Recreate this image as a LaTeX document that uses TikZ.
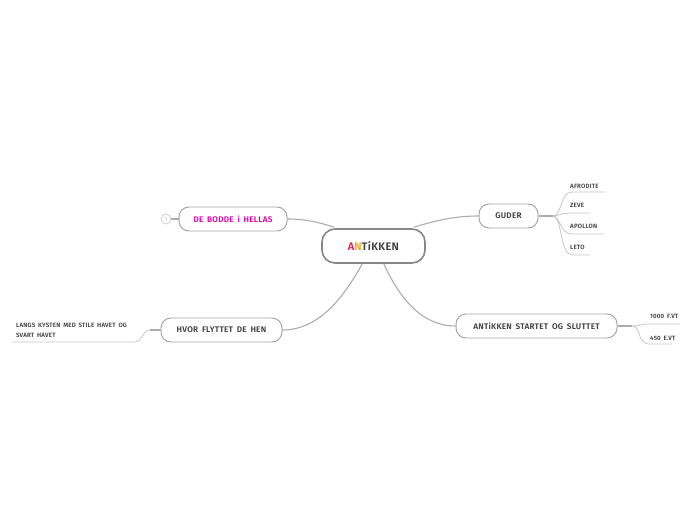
\documentclass[tikz,border=0pt]{standalone}
\usepackage{fontspec}
\setmainfont{Fira Sans}[UprightFont=* SemiBold,LetterSpace=3,WordSpace=1.7]
\definecolor{txt}{HTML}{3F3F3F}
\definecolor{edge}{HTML}{ADADAD}
\definecolor{leaf}{HTML}{C8C8C8}
\definecolor{boxline}{HTML}{A6A6A6}
\tikzset{
 mainbox/.style={draw=black!47,line width=1.6pt,rounded corners=13bp,fill=white,minimum width=103bp,minimum height=34bp,inner sep=0pt,font=\fontsize{11}{12}\selectfont},
 topic/.style={draw=boxline,line width=1pt,rounded corners=10bp,fill=white,minimum height=24bp,inner sep=0pt,text=txt,font=\fontsize{8.2}{9}\selectfont},
 leaftext/.style={inner sep=0pt,anchor=west,text=txt,font=\fontsize{6.2}{7}\selectfont},
 conn/.style={draw=edge,line width=1.1pt},
 leafline/.style={draw=leaf,line width=.8pt},
}
\begin{document}
\begin{tikzpicture}[x=1bp,y=-1bp]
\useasboundingbox[fill=white] (0,0) rectangle (696,520);
\coordinate (gj) at (553,216);
\coordinate (aj) at (632,326);
\coordinate (hj) at (150,330);
\coordinate (e1) at (605,192);
\coordinate (e2) at (590,213);
\coordinate (e3) at (604,234);
\coordinate (e4) at (590,255);
\coordinate (e5) at (680,324);
\coordinate (e6) at (672,344);
\coordinate (e7) at (12,342);
\node[mainbox] (c) at (373.5,246) {\textcolor[HTML]{E8174F}{A}\textcolor[HTML]{F5A41C}{N}\textcolor{txt}{TiKKEN}};
\node[topic,minimum width=59bp] (g) at (508.5,216) {GUDER};
\node[topic,minimum width=108bp,text={rgb,255:red,226;green,0;blue,170}] (d) at (233,219) {DE BODDE i HELLAS};
\node[topic,minimum width=121bp] (h) at (221.5,330) {HVOR FLYTTET DE HEN};
\node[topic,minimum width=161bp] (a) at (536.5,326) {ANTiKKEN STARTET OG SLUTTET};
\node[circle,draw=leaf,line width=.6pt,fill=white,minimum size=10bp,inner sep=0pt,text=leaf,font=\fontsize{5}{5}\selectfont] (n) at (166,219) {1};
\node[leaftext] (t1) at (570,186) {AFRODITE};
\node[leaftext] (t2) at (570,205) {ZEVE};
\node[leaftext] (t3) at (570,226) {APOLLON};
\node[leaftext] (t4) at (570,247) {LETO};
\node[leaftext] (t5) at (650,316) {1000 F.VT};
\node[leaftext] (t6) at (650,338) {450 E.VT};
\node[leaftext,anchor=north west,align=left,font=\fontsize{6.2}{10.5}\selectfont] (t7) at (16,322.5) {LANGS KYSTEN MED STILE HAVET OG\\[-.5pt]SVART HAVET};
\draw[conn] (c.north east) ++(-12,-1) coordinate (c1) (c1) .. controls (438,220) and (455,216) .. (g.west);
\draw[conn] (c.north west) ++(13,-1) coordinate (c2) (c2) .. controls (318,222) and (305,219) .. (d.east);
\draw[conn] (c.south west) ++(41,0) coordinate (c3) (c3) .. controls (345,295) and (320,330) .. (h.east);
\draw[conn] (c.south east) ++(-42,0) coordinate (c4) (c4) .. controls (398,295) and (420,326) .. (a.west);
\draw[conn] (g.east) -- (gj);
\draw[conn] (a.east) -- (aj);
\draw[conn] (h.west) -- (hj);
\draw[conn] (d.west) -- (n.east);
\draw[leafline] (gj) .. controls (562,216) and (560,192) .. (572,192) -- (e1);
\draw[leafline] (gj) .. controls (558,216) and (562,213) .. (572,213) -- (e2);
\draw[leafline] (gj) .. controls (560,216) and (560,234) .. (572,234) -- (e3);
\draw[leafline] (gj) .. controls (562,216) and (560,255) .. (572,255) -- (e4);
\draw[leafline] (aj) .. controls (640,326) and (640,324) .. (650,324) -- (e5);
\draw[leafline] (aj) .. controls (642,326) and (636,344) .. (650,344) -- (e6);
\draw[leafline] (hj) .. controls (142,330) and (143,342) .. (134,342) -- (e7);
\end{tikzpicture}
\end{document}
